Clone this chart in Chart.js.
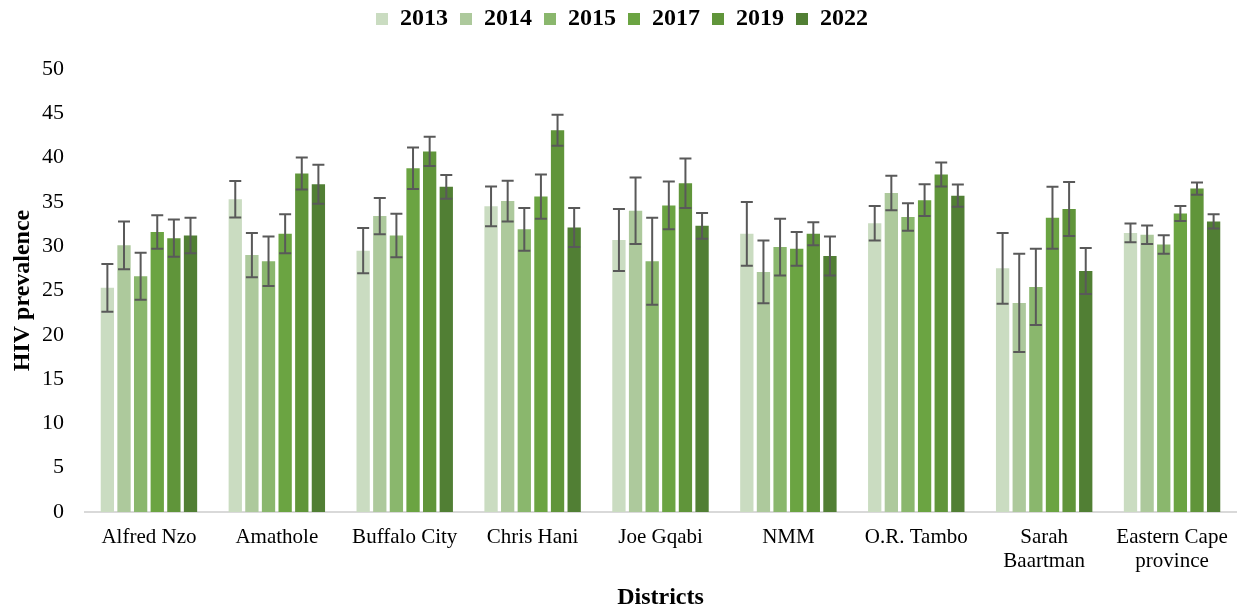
<!DOCTYPE html>
<html>
<head>
<meta charset="utf-8">
<script src="https://cdn.jsdelivr.net/npm/chart.js@4"></script>
<style>
  html, body { margin: 0; padding: 0; background: #fff; }
  #wrap { width: 1243px; height: 610px; }
</style>
</head>
<body>
<div id="wrap"><canvas id="chart"></canvas></div>
<script>
const districts = [
  "Alfred Nzo", "Amathole", "Buffalo City", "Chris Hani", "Joe Gqabi",
  "NMM", "O.R. Tambo", ["Sarah", "Baartman"], ["Eastern Cape", "province"],
];
const years = ["2013", "2014", "2015", "2017", "2019", "2022"];
const colors = ["#cadcc1", "#adc99c", "#8ab76d", "#6ba442", "#60953a", "#517f34"];

// prevalence values per year
const v2013 = [25.3, 35.3, 29.5, 34.5, 30.7, 31.4, 32.6, 27.5, 31.5];
const v2014 = [30.1, 29.0, 33.4, 35.1, 34.0, 27.1, 36.0, 23.6, 31.3];
const v2015 = [26.6, 28.3, 31.2, 31.9, 28.3, 29.9, 33.3, 25.4, 30.2];
const v2017 = [31.6, 31.4, 38.8, 35.6, 34.6, 29.7, 35.2, 33.2, 33.7];
const v2019 = [30.9, 38.2, 40.7, 43.1, 37.1, 31.4, 38.1, 34.2, 36.5];
const v2022 = [31.2, 37.0, 36.7, 32.1, 32.3, 28.9, 35.7, 27.2, 32.8];

// error bar half-widths per year
const e2013 = [2.7, 2.05, 2.55, 2.25, 3.5, 3.6, 1.95, 4.0, 1.05];
const e2014 = [2.7, 2.5, 2.05, 2.3, 3.75, 3.55, 1.95, 5.55, 1.05];
const e2015 = [2.65, 2.8, 2.45, 2.4, 4.9, 3.2, 1.55, 4.3, 1.05];
const e2017 = [1.9, 2.2, 2.35, 2.5, 2.7, 1.9, 1.8, 3.5, 0.85];
const e2019 = [2.1, 1.8, 1.65, 1.75, 2.8, 1.3, 1.35, 3.05, 0.7];
const e2022 = [2.0, 2.2, 1.35, 2.2, 1.45, 2.2, 1.25, 2.6, 0.8];

const values = [v2013, v2014, v2015, v2017, v2019, v2022];
const errors = [e2013, e2014, e2015, e2017, e2019, e2022];

const serif = "'Liberation Serif', 'Times New Roman', serif";

const errorBars = {
  id: "errorBars",
  afterDatasetsDraw(chart) {
    const ctx = chart.ctx;
    const y = chart.scales.y;
    ctx.save();
    ctx.strokeStyle = "#595959";
    ctx.lineWidth = 2;
    chart.data.datasets.forEach((ds, i) => {
      const meta = chart.getDatasetMeta(i);
      meta.data.forEach((bar, j) => {
        const v = ds.data[j];
        const e = ds.errors[j];
        const top = y.getPixelForValue(v + e);
        const bot = y.getPixelForValue(v - e);
        const cap = 6;
        ctx.beginPath();
        ctx.moveTo(bar.x, top);
        ctx.lineTo(bar.x, bot);
        ctx.moveTo(bar.x - cap, top);
        ctx.lineTo(bar.x + cap, top);
        ctx.moveTo(bar.x - cap, bot);
        ctx.lineTo(bar.x + cap, bot);
        ctx.stroke();
      });
    });
    ctx.restore();
  },
};

// fixed height for the legend band
const legendBand = {
  id: "legendBand",
  beforeInit(chart) {
    const fit = chart.legend.fit;
    chart.legend.fit = function () {
      fit.bind(chart.legend)();
      this.height = 74;
    };
  },
};

const data = {
  labels: districts,
  datasets: years.map((yr, i) => ({
    label: yr,
    data: values[i],
    errors: errors[i],
    backgroundColor: colors[i],
    borderWidth: 0,
    barPercentage: 0.8,
    categoryPercentage: 0.78,
  })),
};

const config = {
  type: "bar",
  data,
  options: {
    responsive: true,
    maintainAspectRatio: false,
    animation: false,
    layout: { padding: { left: 8, right: 7, top: -5, bottom: 0 } },
    scales: {
      x: {
        grid: { display: false, drawTicks: false },
        border: { display: true, color: "#d9d9d9", width: 2 },
        afterFit(scale) { scale.height = 98; },
        ticks: {
          color: "#000",
          font: { family: serif, size: 21, lineHeight: 1.15 },
          padding: 13,
          maxRotation: 0,
          autoSkip: false,
        },
        title: {
          display: true,
          text: "Districts",
          color: "#000",
          font: { family: serif, size: 24, weight: "bold", lineHeight: 1.0 },
          padding: { top: 0, bottom: 0 },
        },
      },
      y: {
        min: 0,
        max: 50,
        grid: { display: false, drawTicks: false },
        border: { display: false },
        afterFit(scale) { scale.width = 77; },
        ticks: {
          stepSize: 5,
          color: "#000",
          font: { family: serif, size: 22 },
          padding: 21,
        },
        title: {
          display: true,
          text: "HIV prevalence",
          color: "#000",
          font: { family: serif, size: 24, weight: "bold" },
          padding: { top: 0, bottom: 0 },
        },
      },
    },
    plugins: {
      legend: {
        position: "top",
        labels: {
          boxWidth: 12,
          boxHeight: 12,
          padding: 12,
          color: "#000",
          font: { family: serif, size: 24, weight: "bold" },
        },
      },
      tooltip: { enabled: false },
    },
  },
  plugins: [errorBars, legendBand],
};

function createChart(selector) {
  return new Chart(document.querySelector(selector), config);
}

createChart("#chart");
</script>
</body>
</html>
